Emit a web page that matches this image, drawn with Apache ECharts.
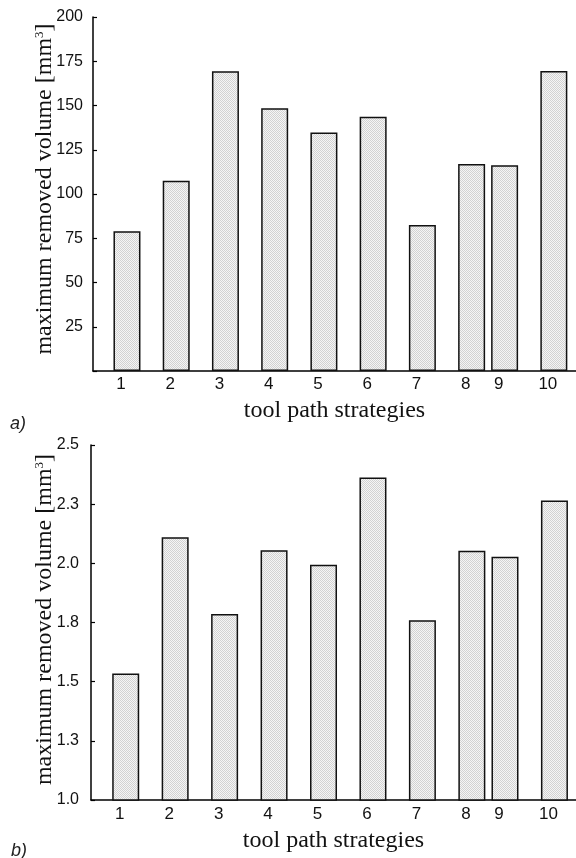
<!DOCTYPE html>
<html>
<head>
<meta charset="utf-8">
<script src="https://cdn.jsdelivr.net/npm/echarts@6/dist/echarts.min.js"></script>
<style>
html,body{margin:0;padding:0;background:#fff;}
#chart{width:576px;height:858px;}
</style>
</head>
<body>
<div id="chart"></div>
<script>
// ---- data ----
var strategyLabels = ['1','2','3','4','5','6','7','8','9','10'];
var strategyPositions = [1, 2, 3, 4, 5, 6, 7, 8, 8.67, 9.67];
var volumeA = [79, 107.5, 169.3, 148.4, 134.8, 143.7, 82.5, 116.9, 116.2, 169.5];
var volumeB = [1.535, 2.11, 1.786, 2.055, 1.994, 2.363, 1.759, 2.053, 2.028, 2.265];
var yTicksA = {min: 0, max: 200, interval: 25};
var yTicksB = {min: 1.0, max: 2.5, interval: 0.25};

// ---- hatch pattern ----
var pat = document.createElement('canvas');
pat.width = 2; pat.height = 2;
var pctx = pat.getContext('2d');
pctx.fillStyle = '#f5f5f5'; pctx.fillRect(0,0,2,2);
pctx.fillStyle = '#d2d2d2'; pctx.fillRect(0,0,1,1); pctx.fillRect(1,1,1,1);

var chart = echarts.init(document.getElementById('chart'), null, {renderer:'canvas'});

function labelFor(v){
  for (var i=0;i<strategyPositions.length;i++){
    if (Math.abs(strategyPositions[i]-v) < 1e-6) return strategyLabels[i];
  }
  return '';
}

var yName = 'maximum removed volume [mm{sup|3}]';
var yNameStyle = function(padLeft){
  return {
    fontFamily: 'Liberation Serif', fontSize: 24, color: '#111',
    padding: [0, 0, 0, padLeft],
    rich: { sup: { fontFamily: 'Liberation Serif', fontSize: 13, color: '#111', verticalAlign: 'top' } }
  };
};
function xAxisCfg(gridIndex, min, max, margin, gap){
  return {
    type: 'value', gridIndex: gridIndex, min: min, max: max,
    name: 'tool path strategies', nameLocation: 'middle', nameGap: gap,
    nameMoveOverlap: false,
    nameTextStyle: {fontFamily: 'Liberation Serif', fontSize: 24, color: '#111'},
    splitLine: {show: false},
    axisLine: {show: true, onZero: false, lineStyle: {color: '#000', width: 1.5}},
    axisTick: {show: false},
    axisLabel: {
      customValues: strategyPositions,
      formatter: labelFor,
      fontFamily: 'Liberation Sans', fontSize: 17, color: '#111',
      margin: margin, padding: [0, 12, 0, 0]
    }
  };
}
function yAxisCfg(gridIndex, t, margin, gap, padLeft, fmt){
  return {
    type: 'value', gridIndex: gridIndex, min: t.min, max: t.max, interval: t.interval,
    name: yName, nameLocation: 'middle', nameRotate: 90, nameGap: gap,
    nameMoveOverlap: false,
    nameTextStyle: yNameStyle(padLeft),
    splitLine: {show: false},
    axisLine: {show: true, lineStyle: {color: '#000', width: 1.5}},
    axisTick: {show: true, inside: true, length: 4, lineStyle: {color: '#000', width: 1.2}},
    axisLabel: {formatter: fmt, fontFamily: 'Liberation Sans', fontSize: 16, color: '#111', margin: margin}
  };
}
function toPairs(vals){
  return vals.map(function(v,i){ return [strategyPositions[i], v]; });
}
var barStyle = {color: {image: pat, repeat: 'repeat'}, borderColor: '#111', borderWidth: 1.5};

chart.setOption({
  animation: false,
  backgroundColor: '#fff',
  title: [
    {text: 'a)', left: 5, top: 410, textStyle: {fontFamily: 'Liberation Sans', fontStyle: 'italic', fontWeight: 'normal', fontSize: 18, color: '#222'}},
    {text: 'b)', left: 6, top: 837, textStyle: {fontFamily: 'Liberation Sans', fontStyle: 'italic', fontWeight: 'normal', fontSize: 18, color: '#222'}}
  ],
  grid: [
    {left: 93, top: 17, width: 483, height: 354},
    {left: 91, top: 445, width: 485, height: 355}
  ],
  xAxis: [
    xAxisCfg(0, 0.31, 10.12, 5, 28),
    xAxisCfg(1, 0.298, 10.106, 6, 29)
  ],
  yAxis: [
    yAxisCfg(0, yTicksA, 10, 36, 10, function(v){ return v === 0 ? '' : String(v); }),
    yAxisCfg(1, yTicksB, 12, 34, 6, function(v){ return v.toFixed(1); })
  ],
  series: [
    {type: 'bar', xAxisIndex: 0, yAxisIndex: 0, barWidth: 27, data: toPairs(volumeA), itemStyle: barStyle},
    {type: 'bar', xAxisIndex: 1, yAxisIndex: 1, barWidth: 27, data: toPairs(volumeB), itemStyle: barStyle}
  ]
});
</script>
</body>
</html>
